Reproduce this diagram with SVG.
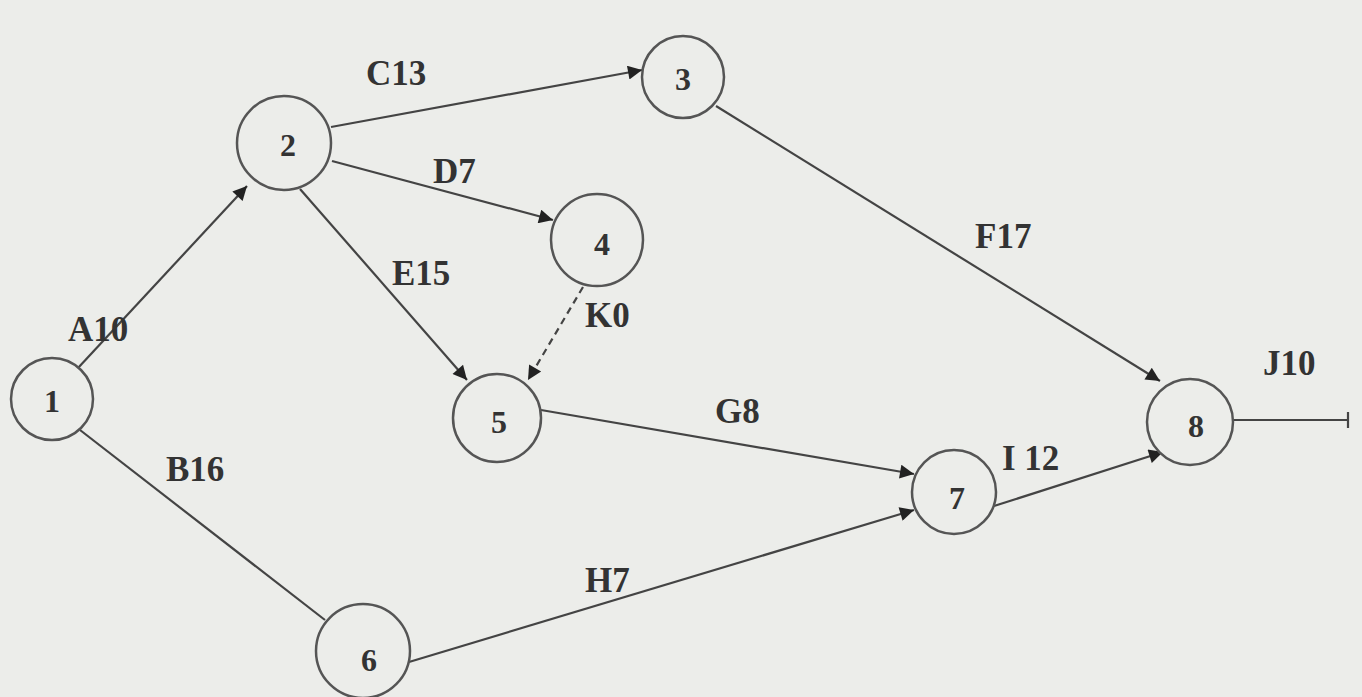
<svg xmlns="http://www.w3.org/2000/svg" width="1362" height="697" viewBox="0 0 1362 697">
<defs>
<marker id="ah" viewBox="0 0 10 10" refX="10" refY="5" markerWidth="22" markerHeight="14" markerUnits="userSpaceOnUse" orient="auto">
<path d="M0,0 L10,5 L0,10 z" fill="#222"/>
</marker>
</defs>
<style>
.node circle{fill:#ecedea;stroke:#555;stroke-width:2.5}
.node text{font-family:"Liberation Serif",serif;font-weight:bold;font-size:32px;fill:#333;text-anchor:middle;dominant-baseline:central}
.e line{stroke:#444;stroke-width:2.2}
.lbl{font-family:"Liberation Serif",serif;font-weight:bold;font-size:35px;fill:#333}
</style>
<rect width="1362" height="697" fill="#ecedea"/>
<g id="connectors" class="e">
<line x1="78" y1="368" x2="247" y2="186" marker-end="url(#ah)"/>
<line x1="80" y1="430" x2="325" y2="620"/>
<line x1="331" y1="127" x2="642" y2="70" marker-end="url(#ah)"/>
<line x1="332" y1="161" x2="553" y2="220" marker-end="url(#ah)"/>
<line x1="300" y1="189" x2="467" y2="380" marker-end="url(#ah)"/>
<line x1="583" y1="287" x2="528" y2="380" stroke-dasharray="7,5" marker-end="url(#ah)"/>
<line x1="541" y1="410" x2="914" y2="474" marker-end="url(#ah)"/>
<line x1="409" y1="662" x2="914" y2="510" marker-end="url(#ah)"/>
<line x1="716" y1="106" x2="1160" y2="381" marker-end="url(#ah)"/>
<line x1="994" y1="506" x2="1163" y2="452" marker-end="url(#ah)"/>
<line x1="1233" y1="420" x2="1349" y2="420" stroke="#888"/>
<line x1="1348" y1="412" x2="1348" y2="428" stroke="#999"/>
</g>
<g id="labels">
<text class="lbl" x="68" y="341">A10</text>
<text class="lbl" x="166" y="481">B16</text>
<text class="lbl" x="366" y="85">C13</text>
<text class="lbl" x="433" y="183">D7</text>
<text class="lbl" x="392" y="285">E15</text>
<text class="lbl" x="585" y="327">K0</text>
<text class="lbl" x="715" y="423">G8</text>
<text class="lbl" x="585" y="592">H7</text>
<text class="lbl" x="975" y="248">F17</text>
<text class="lbl" x="1002" y="470">I 12</text>
<text class="lbl" x="1263" y="375">J10</text>
</g>
<g id="n1" class="node"><circle cx="52" cy="399" r="41"/><text x="52" y="401">1</text></g>
<g id="n2" class="node"><circle cx="284" cy="143" r="47"/><text x="288" y="145">2</text></g>
<g id="n3" class="node"><circle cx="683" cy="77" r="41"/><text x="683" y="79">3</text></g>
<g id="n4" class="node"><circle cx="597" cy="240" r="46"/><text x="602" y="244">4</text></g>
<g id="n5" class="node"><circle cx="497" cy="418" r="44"/><text x="499" y="422">5</text></g>
<g id="n6" class="node"><circle cx="363" cy="651" r="47"/><text x="369" y="660">6</text></g>
<g id="n7" class="node"><circle cx="954" cy="492" r="42"/><text x="957" y="498">7</text></g>
<g id="n8" class="node"><circle cx="1190" cy="422" r="43"/><text x="1196" y="426">8</text></g>
</svg>
